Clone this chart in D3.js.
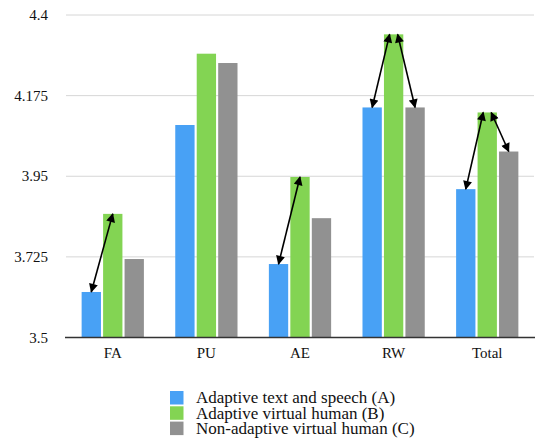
<!DOCTYPE html>
<html>
<head>
<meta charset="utf-8">
<script src="https://cdn.jsdelivr.net/npm/d3@7"></script>
<style>
  body { margin: 0; background: #fff; }
</style>
</head>
<body>
<svg width="537" height="440"></svg>
<script>
const categories = ["FA", "PU", "AE", "RW", "Total"]
const seriesNames = ["Adaptive text and speech (A)", "Adaptive virtual human (B)", "Non-adaptive virtual human (C)"]
const seriesA = [3.627, 4.093, 3.705, 4.142, 3.914]
const seriesB = [3.845, 4.292, 3.948, 4.346, 4.128]
const seriesC = [3.719, 4.266, 3.833, 4.142, 4.019]
const yTicks = [3.5, 3.725, 3.95, 4.175, 4.4]
// arrows: [category, from series index, to series index]
const arrows = [["FA", 0, 1], ["AE", 0, 1], ["RW", 0, 1], ["RW", 2, 1], ["Total", 0, 1], ["Total", 2, 1]]

const colors = ["#48a1f5", "#83d453", "#919191"]
const values = [seriesA, seriesB, seriesC]
const FONT = "'Liberation Serif'"

let svg = d3.select("svg")
const plotLeft = 66, plotRight = 534, plotTop = 15, plotBottom = 337.5

let x = d3.scaleBand().domain(categories).range([plotLeft, plotRight]).paddingInner(0.335).paddingOuter(0.167)
let xs = d3.scaleBand().domain([0, 1, 2]).range([0, x.bandwidth()]).paddingInner(0.1)
let y = d3.scaleLinear().domain([3.5, 4.4]).range([plotBottom, plotTop])

// gridlines
svg.append("g").selectAll("line")
  .data(yTicks.slice(1))
  .enter().append("line")
  .attr("x1", plotLeft).attr("x2", plotRight)
  .attr("y1", d => y(d)).attr("y2", d => y(d))
  .attr("stroke", "#d6d6d6").attr("stroke-width", 1)

// y labels
svg.append("g").selectAll("text")
  .data(yTicks)
  .enter().append("text")
  .attr("x", 48).attr("y", d => y(d) + 5)
  .attr("text-anchor", "end")
  .style("font-family", FONT)
  .style("font-size", "15px")
  .style("fill", "#111")
  .text(d => d)

// bars
let rows = []
categories.forEach((c, i) => values.forEach((s, j) => rows.push({ c: c, j: j, v: s[i] })))
svg.append("g").selectAll("rect")
  .data(rows)
  .enter().append("rect")
  .attr("x", d => x(d.c) + xs(d.j))
  .attr("y", d => y(d.v))
  .attr("width", xs.bandwidth())
  .attr("height", d => plotBottom - y(d.v))
  .attr("fill", d => colors[d.j])

// x axis line
svg.append("line")
  .attr("x1", plotLeft - 1).attr("x2", plotRight + 1)
  .attr("y1", plotBottom).attr("y2", plotBottom)
  .attr("stroke", "#333").attr("stroke-width", 1.5)

svg.append("g").selectAll("text")
  .data(categories)
  .enter().append("text")
  .attr("x", d => x(d) + x.bandwidth() / 2)
  .attr("y", 357.5)
  .attr("text-anchor", "middle")
  .style("font-family", FONT)
  .style("font-size", "15px")
  .style("fill", "#111")
  .text(d => d)

// arrows
let defs = svg.append("defs")
defs.append("marker")
  .attr("id", "head")
  .attr("viewBox", "0 0 10 10")
  .attr("refX", 9).attr("refY", 5)
  .attr("markerWidth", 10).attr("markerHeight", 9)
  .attr("markerUnits", "userSpaceOnUse")
  .attr("orient", "auto-start-reverse")
  .append("path")
  .attr("d", "M0,0 L10,5 L0,10 Z")
  .attr("fill", "#000")

svg.append("g").selectAll("line")
  .data(arrows)
  .enter().append("line")
  .each(function (d) {
    let ci = categories.indexOf(d[0])
    let twin = arrows.filter(a => a[0] === d[0]).length > 1
    let shift = twin ? (d[1] < d[2] ? -4 : 4) : 0
    d3.select(this)
      .attr("x1", x(d[0]) + xs(d[1]) + xs.bandwidth() / 2)
      .attr("y1", y(values[d[1]][ci]))
      .attr("x2", x(d[0]) + xs(d[2]) + xs.bandwidth() / 2 + shift)
      .attr("y2", y(values[d[2]][ci]))
  })
  .attr("stroke", "#000").attr("stroke-width", 1.6)
  .attr("marker-start", "url(#head)")
  .attr("marker-end", "url(#head)")

// legend
let legend = svg.append("g").selectAll("g")
  .data(seriesNames)
  .enter().append("g")
  .attr("transform", (d, i) => "translate(170," + (391 + i * 15.3) + ")")
legend.append("rect")
  .attr("width", 13.5).attr("height", 13.5)
  .attr("fill", (d, i) => colors[i])
legend.append("text")
  .attr("x", 26).attr("y", 12.3)
  .style("font-family", FONT)
  .style("font-size", "17px")
  .style("fill", "#111")
  .text(d => d)
</script>
</body>
</html>
